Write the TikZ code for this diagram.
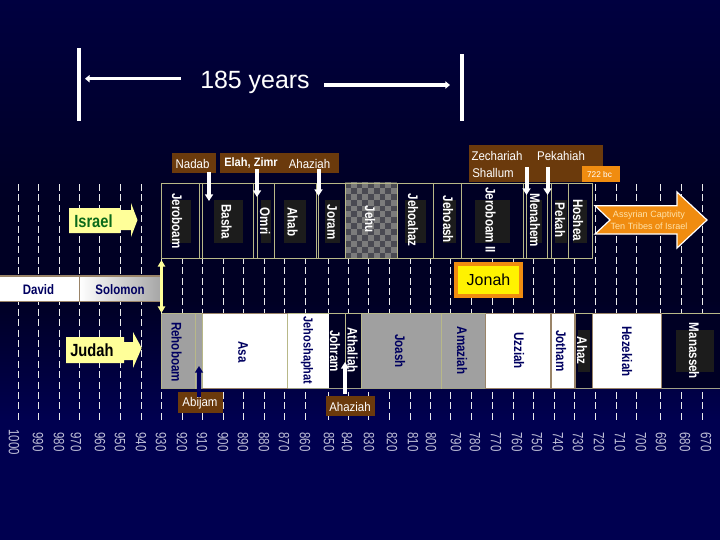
\documentclass[tikz,border=0pt]{standalone}
\usepackage{fontspec}
\setmainfont{Liberation Sans}
\definecolor{bgtop}{HTML}{000040}
\definecolor{bgmid}{HTML}{000024}
\definecolor{bgbot}{HTML}{000050}
\definecolor{brownbox}{HTML}{6B3A0C}
\definecolor{orangebox}{HTML}{F08C10}
\definecolor{paleyellow}{HTML}{FFFF99}
\definecolor{frameline}{HTML}{B8B888}
\definecolor{navytext}{HTML}{000060}
\definecolor{grayband}{HTML}{A0A0A0}
\definecolor{darkback}{HTML}{1C1C1C}
\definecolor{yeartext}{HTML}{C0C0D8}
\definecolor{checklight}{HTML}{7C7C7C}
\definecolor{checkdark}{HTML}{4A4A52}
\definecolor{edgebrown}{HTML}{9A8468}
\definecolor{israelgreen}{HTML}{0A6A1A}
\definecolor{captext}{HTML}{FFE2A8}
\usetikzlibrary{arrows.meta}
\tikzset{
  ticks/.style={white!92!black,line width=1.1pt,dash pattern=on 5.2pt off 2.6pt},
  kingw/.style={rotate=-90,yscale=1.2,text=white,font=\bfseries\fontsize{8.7}{10}\selectfont,inner sep=0pt},
  kingn/.style={rotate=-90,yscale=1.2,text=navytext,font=\bfseries\fontsize{8.7}{10}\selectfont,inner sep=0pt},
  yearlab/.style={rotate=-90,yscale=1.3,text=yeartext,font=\fontsize{8.6}{9}\selectfont,inner sep=0pt},
  brownlab/.style={yscale=1.1,text=white,font=\fontsize{8.6}{9}\selectfont,inner sep=0pt},
  wdrop/.style={draw=white,line width=3pt,-{Triangle[length=5pt,width=6pt]}},
  frame/.style={draw=frameline,line width=0.5pt},
  span/.style={white,line width=2.6pt},
  spanarr/.style={white,line width=2.6pt,-{Triangle[length=3.5pt,width=5.5pt]}}
}
\begin{document}
\begin{tikzpicture}[x=0.75pt,y=-0.75pt]
\useasboundingbox (0,0) rectangle (720,540);
\shade[top color=bgtop,bottom color=bgmid] (0,0) rectangle (720,200);
\fill[bgmid] (0,200) rectangle (720,300);
\shade[top color=bgmid,bottom color=bgbot] (0,300) rectangle (720,420);
\fill[bgbot] (0,420) rectangle (720,540);
% dashed year ticks
\foreach \x in {18.5,38.5,59.5,79.5,99.5,120.5,141.5,161.5,182.5,202.5,223.5,243.5,264.5,284.5,305.5,328.5,348.5,368.5,389.5,410.5,430.5,450.5,471.5,492.5,513.5,533.5,554.5,574.5,595.5,616.5,636.5,660.5,681.5,702.5}
  \draw[ticks] (\x,184) -- (\x,420);
% Israel band
\fill[bgmid] (161.5,182) rectangle (592.5,258.5);
\foreach \a/\b in {170/190.7,214/243,261/271,284/306,325/340,405/426,443/456,475/510,530/542,555/567,573/587}
  \fill[darkback] (\a,200) rectangle (\b,243);
\fill[checklight] (345,182) rectangle (397,258.5);
\foreach \i in {0,...,8} \foreach \j in {0,...,12}{
  \pgfmathtruncatemacro{\parity}{mod(\i+\j,2)}
  \ifnum\parity=0 \fill[checkdark] (345+5.78*\i,182+5.88*\j) rectangle ++(5.78,5.88);\fi}
\draw[frame] (161.5,183) rectangle (592.5,258.5);
\foreach \x in {199.5,202,253,257,274,316,318,345,397,433,461.7,523,526,547.7,551.7,568}
  \draw[frame] (\x,183) -- (\x,258.5);
\node[kingw] (jeroboam) at (177,221) {Jeroboam};
\node[kingw] (basha) at (226.7,222) {Basha};
\node[kingw] (omri) at (265,221.5) {Omri};
\node[kingw] (ahab) at (292.7,222) {Ahab};
\node[kingw] (joram) at (332,222) {Joram};
\node[kingw] (jehu) at (370,219.5) {Jehu};
\node[kingw] (jehoahaz) at (413,220) {Jehoahaz};
\node[kingw] (jehoash) at (448,219.5) {Jehoash};
\node[kingw] (jeroboam2) at (490.7,220) {Jeroboam II};
\node[kingw] (menahem) at (535,220.5) {Menahem};
\node[kingw] (pekah) at (560,220) {Pekah};
\node[kingw] (hoshea) at (578,220) {Hoshea};
% brown labels above Israel
\fill[brownbox] (172,153) rectangle (216,173);
\fill[brownbox] (220,153) rectangle (339,173);
\fill[brownbox] (468.5,145) rectangle (603,182);
\node[brownlab] (nadab) at (192.5,163.5) {Nadab};
\node[brownlab,font=\bfseries\fontsize{8.3}{9}\selectfont] (elah) at (251,163.5) {Elah, Zimr};
\node[brownlab] (ahaziahi) at (309.5,163.5) {Ahaziah};
\node[brownlab] (zech) at (497,156) {Zechariah};
\node[brownlab] (pekahiah) at (561,156) {Pekahiah};
\node[brownlab] (shallum) at (493,173) {Shallum};
\fill[orangebox] (582,165.5) rectangle (620,182);
\node[text=white,font=\fontsize{6.2}{7}\selectfont,inner sep=0pt] (bc) at (599.5,174.5) {722 bc};
\coordinate (d1) at (209,172); \coordinate (d1e) at (209,201);
\coordinate (d2) at (257,169); \coordinate (d2e) at (257,197);
\coordinate (d3) at (318.5,169); \coordinate (d3e) at (318.5,196);
\coordinate (d4) at (526.5,167); \coordinate (d4e) at (526.5,195);
\coordinate (d5) at (547.5,167); \coordinate (d5e) at (547.5,195);
\draw[wdrop] (d1) -- (d1e);
\draw[wdrop] (d2) -- (d2e);
\draw[wdrop] (d3) -- (d3e);
\draw[wdrop] (d4) -- (d4e);
\draw[wdrop] (d5) -- (d5e);
% Israel arrow
\fill[paleyellow] (69,208) -- (120,208) -- (120,210) -- (131,210) -- (131,203) -- (137.5,220) -- (131,237) -- (131,230) -- (120,230) -- (120,233) -- (69,233) -- cycle;
\node[yscale=1.2,text=israelgreen,font=\bfseries\fontsize{11}{13}\selectfont,inner sep=0pt,anchor=west] (israel) at (74,221) {Israel};
% Assyrian arrow
\fill[orangebox,draw=white,line width=0.9pt] (595,205.7) -- (677,205.7) -- (677,192) -- (707,220) -- (677,248) -- (677,234) -- (595,234) -- (610,220) -- cycle;
\node[text=captext,align=center,font=\fontsize{6.8}{9.2}\selectfont,inner sep=0pt] (assyria) at (649,220) {Assyrian Captivity\\Ten Tribes of Israel};
% David Solomon
\fill[white] (0,276) rectangle (79,301.5);
\shade[left color=white,right color=gray!70] (79,276) rectangle (161,301.5);
\draw[draw=edgebrown,line width=0.9pt] (-1,276) rectangle (161,301.5);
\draw[draw=edgebrown,line width=0.7pt] (79.5,276) -- (79.5,301.5);
\node[yscale=1.2,text=navytext,font=\bfseries\fontsize{8.6}{10}\selectfont,inner sep=0pt] (david) at (38.5,290) {David};
\node[yscale=1.2,text=navytext,font=\bfseries\fontsize{8.6}{10}\selectfont,inner sep=0pt] (solomon) at (120,290) {Solomon};
\coordinate (uy1) at (161.5,260); \coordinate (uy2) at (161.5,313);
\draw[paleyellow,line width=1.8pt,{Triangle[length=5pt,width=5.5pt]}-{Triangle[length=5pt,width=5.5pt]}] (uy1) -- (uy2);
% Jonah
\node[draw=orangebox,line width=3pt,fill=yellow,minimum width=48.75pt,minimum height=23.5pt,inner sep=0pt,text=black,font=\fontsize{12}{13}\selectfont] (jonah) at (488.5,280) {Jonah\hspace{4.5pt}};
% Judah band
\fill[bgmid] (161.5,313.5) rectangle (720,388.5);
\fill[grayband] (161.5,313.5) rectangle (202,388.5);
\fill[white] (202,313.5) rectangle (329,388.5);
\fill[grayband] (361.5,313.5) rectangle (485.5,388.5);
\fill[white] (485.5,313.5) rectangle (575,388.5);
\fill[white] (592.5,313.5) rectangle (661.5,388.5);
\fill[darkback] (578,330) rectangle (590,372);
\fill[darkback] (676,330) rectangle (714,372);
\draw[frame] (161.5,313.5) -- (720,313.5);
\draw[draw=frameline!60!gray,line width=0.5pt] (161.5,388.5) -- (720,388.5);
\foreach \x in {161.5,195.7,202,287.5,345,361.5,441}
  \draw[draw=frameline,line width=0.7pt] (\x,313.5) -- (\x,388.5);
\foreach \x in {485.5,551,575,592.5,661.5}
  \draw[draw=edgebrown,line width=0.9pt] (\x,313.5) -- (\x,388.5);
\draw[draw=edgebrown,line width=1pt] (202,313.5) -- (287.5,313.5) (202,388.5) -- (287.5,388.5);
\draw[draw=edgebrown,line width=1pt] (485.5,313.5) -- (575,313.5) (485.5,388.5) -- (575,388.5) (592.5,313.5) -- (661.5,313.5) (592.5,388.5) -- (661.5,388.5);
\node[kingn] (rehoboam) at (176.7,352) {Rehoboam};
\node[kingn] (asa) at (243,352) {Asa};
\node[kingn,font=\bfseries\fontsize{8.2}{10}\selectfont] (jehoshaphat) at (307,350.5) {Jehoshaphat};
\node[kingw] (johram) at (335,351) {Johram};
\node[kingw] (athaliah) at (352.7,350) {Athaliah};
\node[kingn] (joash) at (400,351) {Joash};
\node[kingn] (amaziah) at (462,350.5) {Amaziah};
\node[kingn] (uzziah) at (519,350.5) {Uzziah};
\node[kingn] (jotham) at (561,351) {Jotham};
\node[kingw] (ahaz) at (582,350.5) {Ahaz};
\node[kingn] (hezekiah) at (627,351.5) {Hezekiah};
\node[kingw] (manasseh) at (694,351) {Manasseh};
% brown labels below Judah
\fill[brownbox] (178,392) rectangle (223,413);
\node[brownlab] (abijam) at (200,403) {Abijam};
\fill[brownbox] (326,396) rectangle (375,416);
\node[brownlab] (ahaziahj) at (350,407) {Ahaziah};
\coordinate (u1) at (199,397); \coordinate (u1e) at (199,366);
\coordinate (u2) at (345,394); \coordinate (u2e) at (345,362);
\draw[draw=navytext,line width=3pt,-{Triangle[length=5pt,width=6pt]}] (u1) -- (u1e);
\draw[wdrop] (u2) -- (u2e);
% Judah arrow
\fill[paleyellow] (66,337) -- (124,337) -- (124,342) -- (133,342) -- (133,332) -- (141.7,348) -- (133,368) -- (133,360) -- (124,360) -- (124,363) -- (66,363) -- cycle;
\node[yscale=1.2,text=black,font=\bfseries\fontsize{11}{13}\selectfont,inner sep=0pt,anchor=west] (judah) at (70,350) {Judah};
% year labels
\foreach \y/\x in {1000/14,990/38,980/59,970/76,960/100,950/120,940/141,930/161,920/182,910/202,900/223,890/243,880/264,870/284,860/305,850/329,840/347,830/369,820/392,810/413,800/431,790/456,780/475,770/496,760/517,750/537,740/558,730/578,720/599,710/620,700/641,690/661,680/685,670/706}
  \node[yearlab] (y\y) at (\x,442) {\y};
% 185 years
\coordinate (t1) at (79,48); \coordinate (t2) at (79,121);
\coordinate (t3) at (462,54); \coordinate (t4) at (462,121);
\draw[span] (t1) -- (t2);
\draw[span] (t3) -- (t4);
\node[text=white,font=\fontsize{18.7}{20}\selectfont,inner sep=0pt] (years) at (255,82) {185 years};
\coordinate (a1) at (181,78.7); \coordinate (a2) at (85,78.7);
\coordinate (b1) at (324,85); \coordinate (b2) at (450,85);
\draw[spanarr] (a1) -- (a2);
\draw[spanarr] (b1) -- (b2);
\end{tikzpicture}
\end{document}
